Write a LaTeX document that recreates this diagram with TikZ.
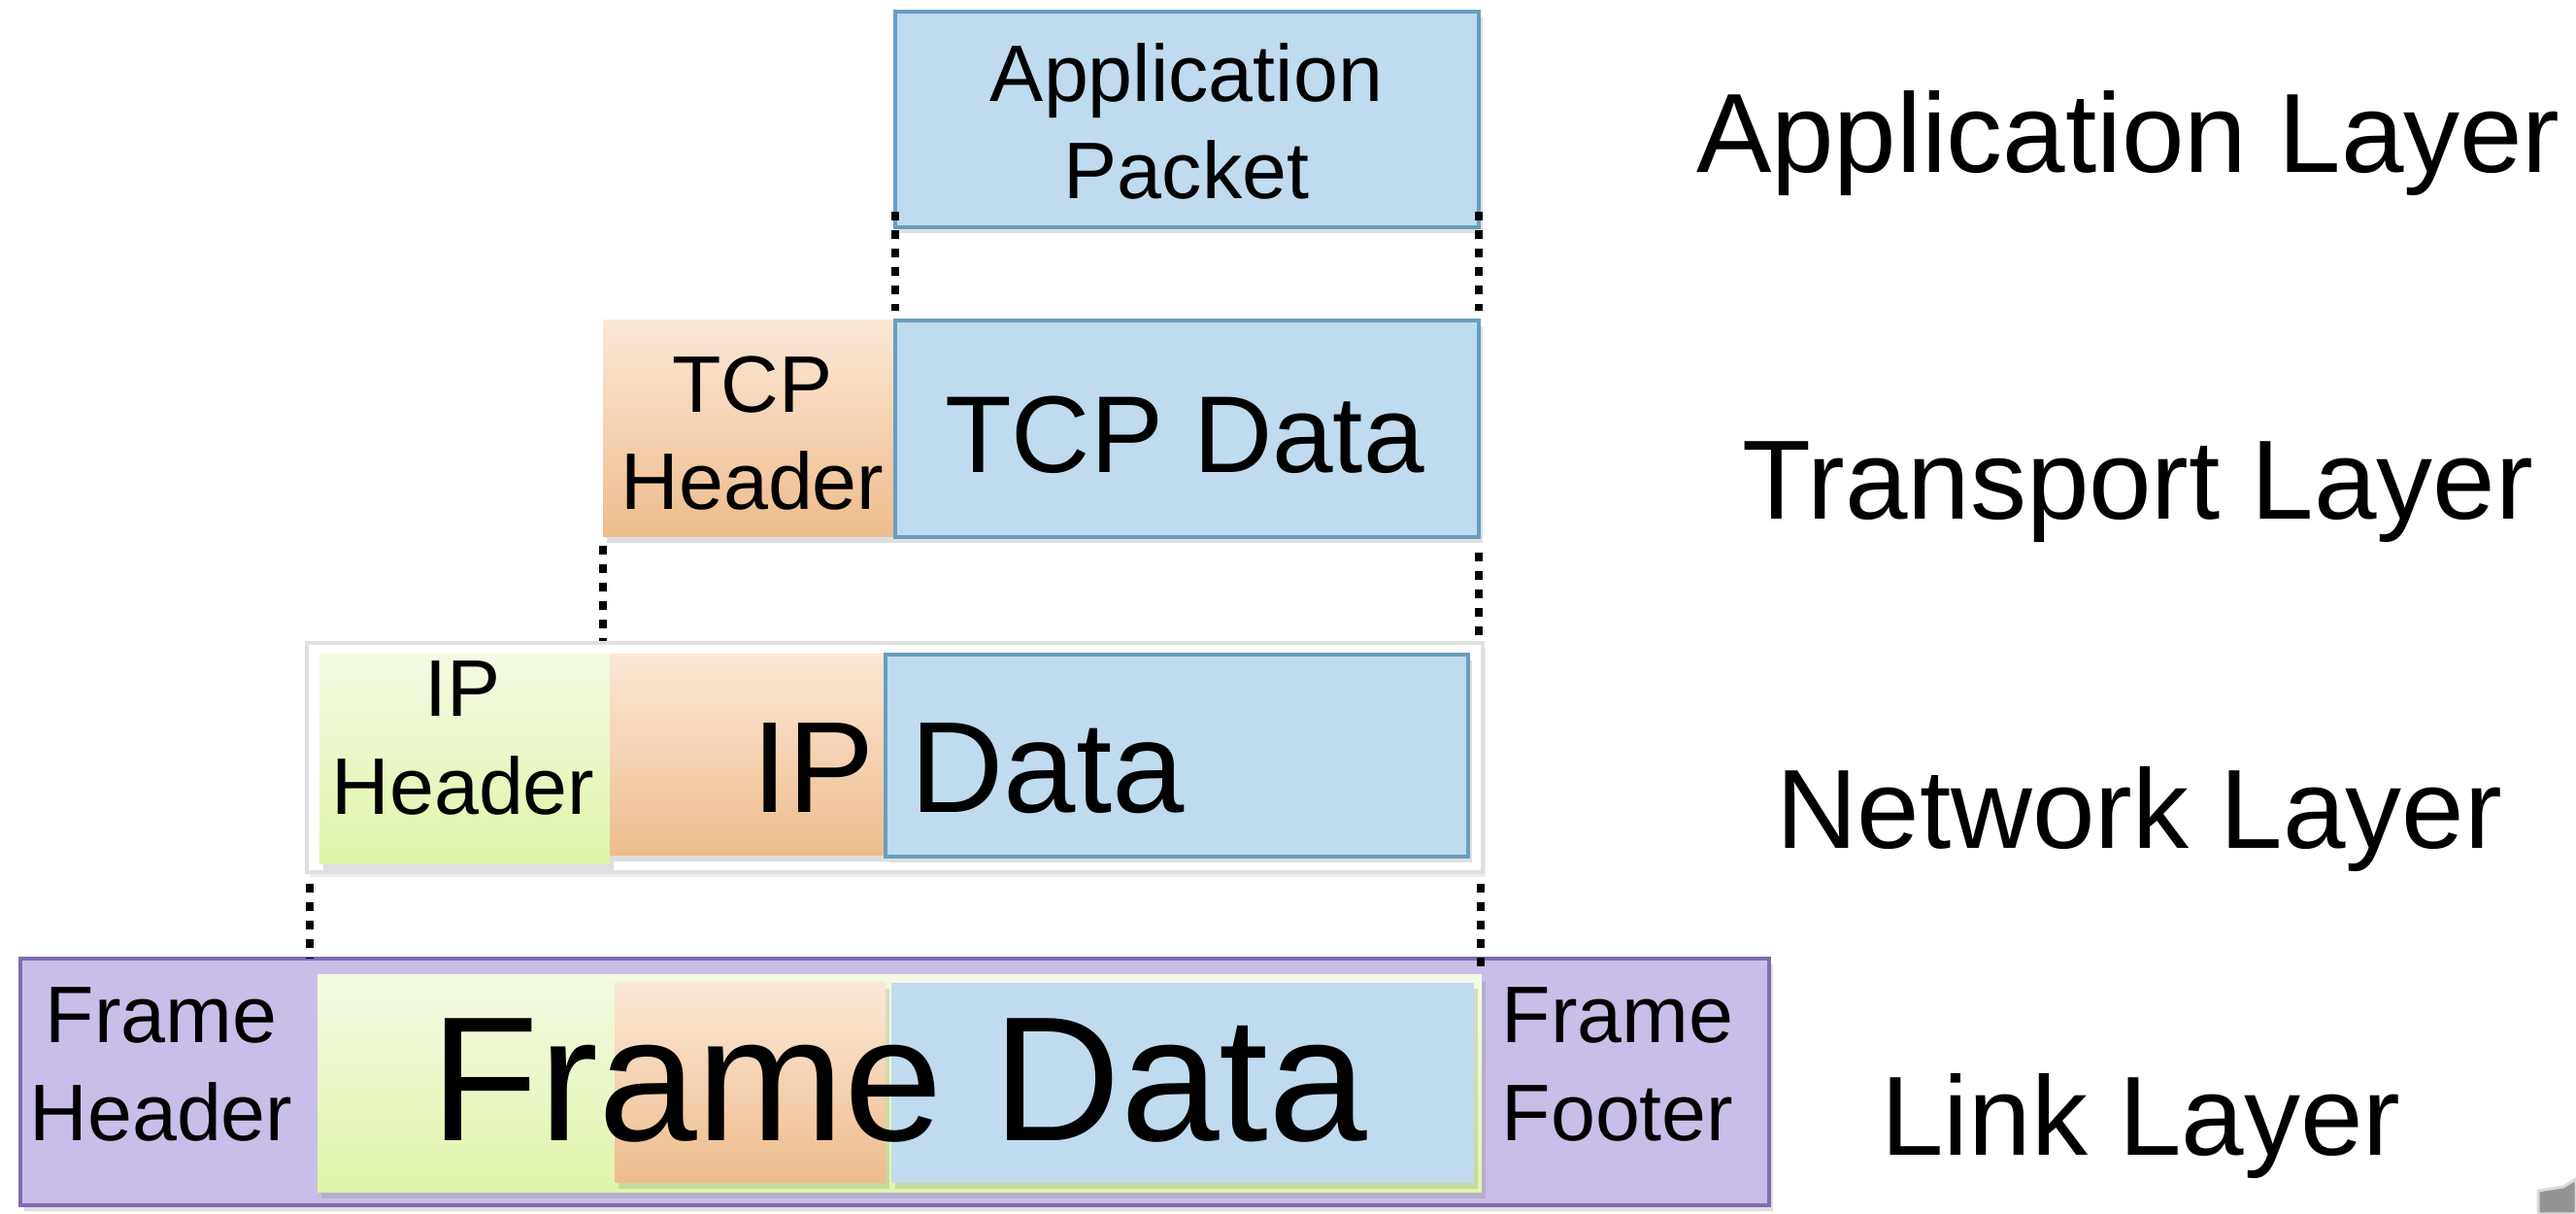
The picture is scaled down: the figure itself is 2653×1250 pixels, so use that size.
\documentclass[tikz,border=0pt]{standalone}
\usepackage{fontspec}
\setmainfont{Liberation Sans}
\usetikzlibrary{shadows}

\definecolor{pktblue}{RGB}{192,218,238}
\definecolor{pktedge}{RGB}{104,158,190}
\definecolor{orgtop}{RGB}{250,232,214}
\definecolor{orgbot}{RGB}{238,188,140}
\definecolor{grntop}{RGB}{244,250,228}
\definecolor{grnbot}{RGB}{224,245,168}
\definecolor{lilac}{RGB}{200,190,232}
\definecolor{lilacedge}{RGB}{128,108,176}

\begin{document}
\begin{tikzpicture}[x=0.1mm,y=-0.1mm]

\tikzset{box/.style = {inner sep=0pt, outer sep=0pt, drop shadow={shadow xshift=0.4mm, shadow yshift=-0.6mm, opacity=0.25}}}
\tikzset{blue/.style = {box, fill=pktblue, draw=pktedge, line width=0.35mm}}
\tikzset{orange/.style = {box, top color=orgtop, bottom color=orgbot}}
\tikzset{green/.style = {box, top color=grntop, bottom color=grnbot}}
\tikzset{small/.style = {inner sep=0pt, align=center, font=\fontsize{23.5}{28.5}\selectfont}}
\tikzset{layer/.style = {inner sep=0pt, anchor=base, font=\fontsize{33}{36}\selectfont}}
\tikzset{guide/.style = {line width=0.8mm, dash pattern=on 0.9mm off 1mm}}

\useasboundingbox (0,0) rectangle (2653,1250);

% boxes
\node[blue, minimum width=60.1mm, minimum height=22.2mm] (app) at (1222.5,123) {};
\node[orange, minimum width=30.1mm, minimum height=22.3mm] (tcph) at (771.5,441.5) {};
\node[blue, minimum width=60.1mm, minimum height=22.3mm] (tcpd) at (1222.5,441.5) {};
\node[inner sep=0pt, fill=white, draw=black!12, line width=0.4mm, drop shadow={shadow xshift=0.3mm, shadow yshift=-0.5mm, opacity=0.15}, minimum width=121.1mm, minimum height=23.6mm] (net) at (921.5,780) {};
\node[green, minimum width=29.9mm, minimum height=21.6mm] (iph) at (478.5,782) {};
\node[orange, minimum width=28.4mm, minimum height=20.7mm] (ipo) at (770,777.5) {};
\node[blue, minimum width=60mm, minimum height=20.8mm] (ipd) at (1212,778) {};
\node[box, fill=lilac, draw=lilacedge, line width=0.4mm, minimum width=180.1mm, minimum height=25.4mm] (link) at (921.5,1114) {};
\node[green, minimum width=119.9mm, minimum height=22.4mm] (fgrn) at (926.5,1116) {};
\node[orange, minimum width=27.9mm, minimum height=20.6mm] (forg) at (772.5,1115) {};
\node[box, fill=pktblue, minimum width=60mm, minimum height=20.6mm] (fblu) at (1218,1115) {};

% texts
\node[small] (apptxt) at (1222,125) {Application\\Packet};
\node[small] (tcphtxt) at (775,446) {TCP\\Header};
\node[inner sep=0pt, anchor=base, font=\fontsize{32}{34}\selectfont] (tcpdtxt) at (1220,487) {TCP Data};
\node[small] (iphtxt) at (477,760) {IP\\Header};
\node[inner sep=0pt, anchor=base, font=\fontsize{38}{40}\selectfont] (ipdtxt) at (997,837) {IP Data};
\node[small] (fhtxt) at (166,1096) {Frame\\Header};
\node[small] (fftxt) at (1666,1096) {Frame\\Footer};
\node[inner sep=0pt, anchor=base, font=\fontsize{52}{54}\selectfont] (fdtxt) at (926,1175) {Frame Data};

% labels
\node[layer] (l4) at (2192,178) {Application Layer};
\node[layer] (l3) at (2202,535) {Transport Layer};
\node[layer] (l2) at (2203,874) {Network Layer};
\node[layer] (l1) at (2205,1190) {Link Layer};

% dotted lines
\draw[guide] ([yshift=1.6mm]app.south west) -- ([yshift=1mm]tcpd.north west);
\draw[guide] ([yshift=1.6mm]app.south east) -- ([yshift=1mm]tcpd.north east);
\draw[guide] ([yshift=-0.9mm]tcph.south west) -- (tcph.south west |- net.north);
\draw[guide] ([yshift=-1.6mm]tcpd.south east) -- (tcpd.south east |- net.north);
\draw[guide] ([xshift=0.5mm, yshift=-1mm]net.south west) -- ([xshift=0.5mm]net.south west |- link.north);
\draw[guide] ([xshift=-0.4mm, yshift=-1mm]net.south east) -- ([xshift=-0.4mm]net.south east |- fgrn.north);

% corner mark
\fill[black!42, draw=black!15, line width=0.3mm] (2614,1226) -- (2640,1222) -- (2653,1214) -- (2653,1250) -- (2614,1250) -- cycle;

\end{tikzpicture}
\end{document}
